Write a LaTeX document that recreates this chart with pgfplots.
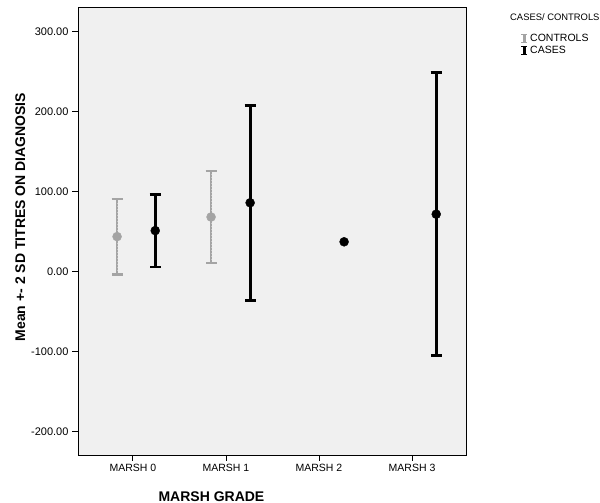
\documentclass[border=0pt]{standalone}
\usepackage{pgfplots}
\pgfplotsset{compat=1.18}
\usepackage{fontspec}
\setmainfont{Liberation Sans}
\definecolor{bgc}{HTML}{F0F0F0}
\definecolor{ctrl}{HTML}{A4A4A4}
\definecolor{ctrllight}{HTML}{C8C8C8}
\begin{document}
\begin{tikzpicture}
\path[use as bounding box] (0,0) rectangle (600pt,503pt);
\begin{axis}[
  name=ax, at={(78pt,48pt)}, anchor=south west,
  scale only axis, width=388pt, height=448pt,
  xmin=-0.59, xmax=3.58, ymin=-229, ymax=331,
  axis background/.style={fill=bgc},
  axis line style={black, line width=0.8pt},
  tick align=outside, xtick pos=left, ytick pos=left,
  major tick length=6pt, tick style={black, line width=0.8pt},
  xtick={0,1,2,3}, xticklabels={MARSH 0,MARSH 1,MARSH 2,MARSH 3},
  ytick={-200,-100,0,100,200,300},
  /pgf/number format/assume math mode=true,
  yticklabel style={font=\fontsize{11}{13}\selectfont, /pgf/number format/.cd, fixed, fixed zerofill, precision=2, 1000 sep={}},
  xticklabel style={font=\fontsize{10.5}{12}\selectfont},
  xlabel={MARSH GRADE},
  xlabel style={font=\fontsize{14}{16}\selectfont\bfseries, at={(axis description cs:0.344,-0.092)}, anchor=center},
  ylabel={Mean +- 2 SD TITRES ON DIAGNOSIS},
  ylabel style={font=\fontsize{14}{16}\selectfont\bfseries, at={(axis description cs:-0.149,0.531)}, anchor=center},
  legend style={draw=none, fill=none, anchor=north west, at={(axis description cs:1.132,0.9487)},
    font=\fontsize{10.5}{12}\selectfont, row sep=-1pt, legend cell align=left},
  legend image code/.code={
    \draw[#1, line width=2.6pt] (0pt,-4pt) -- (0pt,4pt);
    \draw[#1, line width=1.8pt] (-3pt,4pt) -- (3pt,4pt);
    \draw[#1, line width=1.8pt] (-3pt,-4pt) -- (3pt,-4pt);
  },
]
\addlegendimage{ctrl}
\addlegendentry{CONTROLS}
\addlegendimage{black}
\addlegendentry{CASES}
% controls
\addplot[forget plot, only marks, mark=none, color=ctrl,
  error bars/.cd, y dir=both, y explicit,
  error bar style={line width=2.8pt},
  error mark options={rotate=90, mark size=5.5pt, line width=2.8pt}]
  table[x=x, y=y, y error plus=ep, y error minus=em] {
x y ep em
-0.17 44 47 47
0.84 68.5 57.5 57.5
};
\addplot[forget plot, only marks, mark=none, color=ctrllight,
  error bars/.cd, y dir=both, y explicit, error mark=none,
  error bar style={line width=1pt, dash pattern=on 0.8pt off 2.2pt}]
  table[x=x, y=y, y error plus=ep, y error minus=em] {
x y ep em
-0.17 44 44 44
0.84 68.5 54.5 54.5
};
\addplot[forget plot, only marks, mark=*, mark size=4.5pt, color=ctrl]
  table[x=x, y=y] {
x y
-0.17 44
0.84 68.5
};
% cases
\addplot[forget plot, only marks, mark=*, mark size=4.5pt, color=black,
  error bars/.cd, y dir=both, y explicit,
  error bar style={line width=2.8pt},
  error mark options={rotate=90, mark size=5.5pt, line width=2.8pt}]
  table[x=x, y=y, y error plus=ep, y error minus=em] {
x y ep em
0.24 51.5 45.5 45.5
1.26 86.3 121.7 121.7
3.26 72 177 177
};
\addplot[forget plot, only marks, mark=*, mark size=4.5pt, color=black]
  table[x=x, y=y] {
x y
2.27 37.5
};
\end{axis}
\node[anchor=west, font=\fontsize{9.4}{11}\selectfont, inner sep=0pt] at (510pt,486pt) {CASES/ CONTROLS};
\end{tikzpicture}
\end{document}
